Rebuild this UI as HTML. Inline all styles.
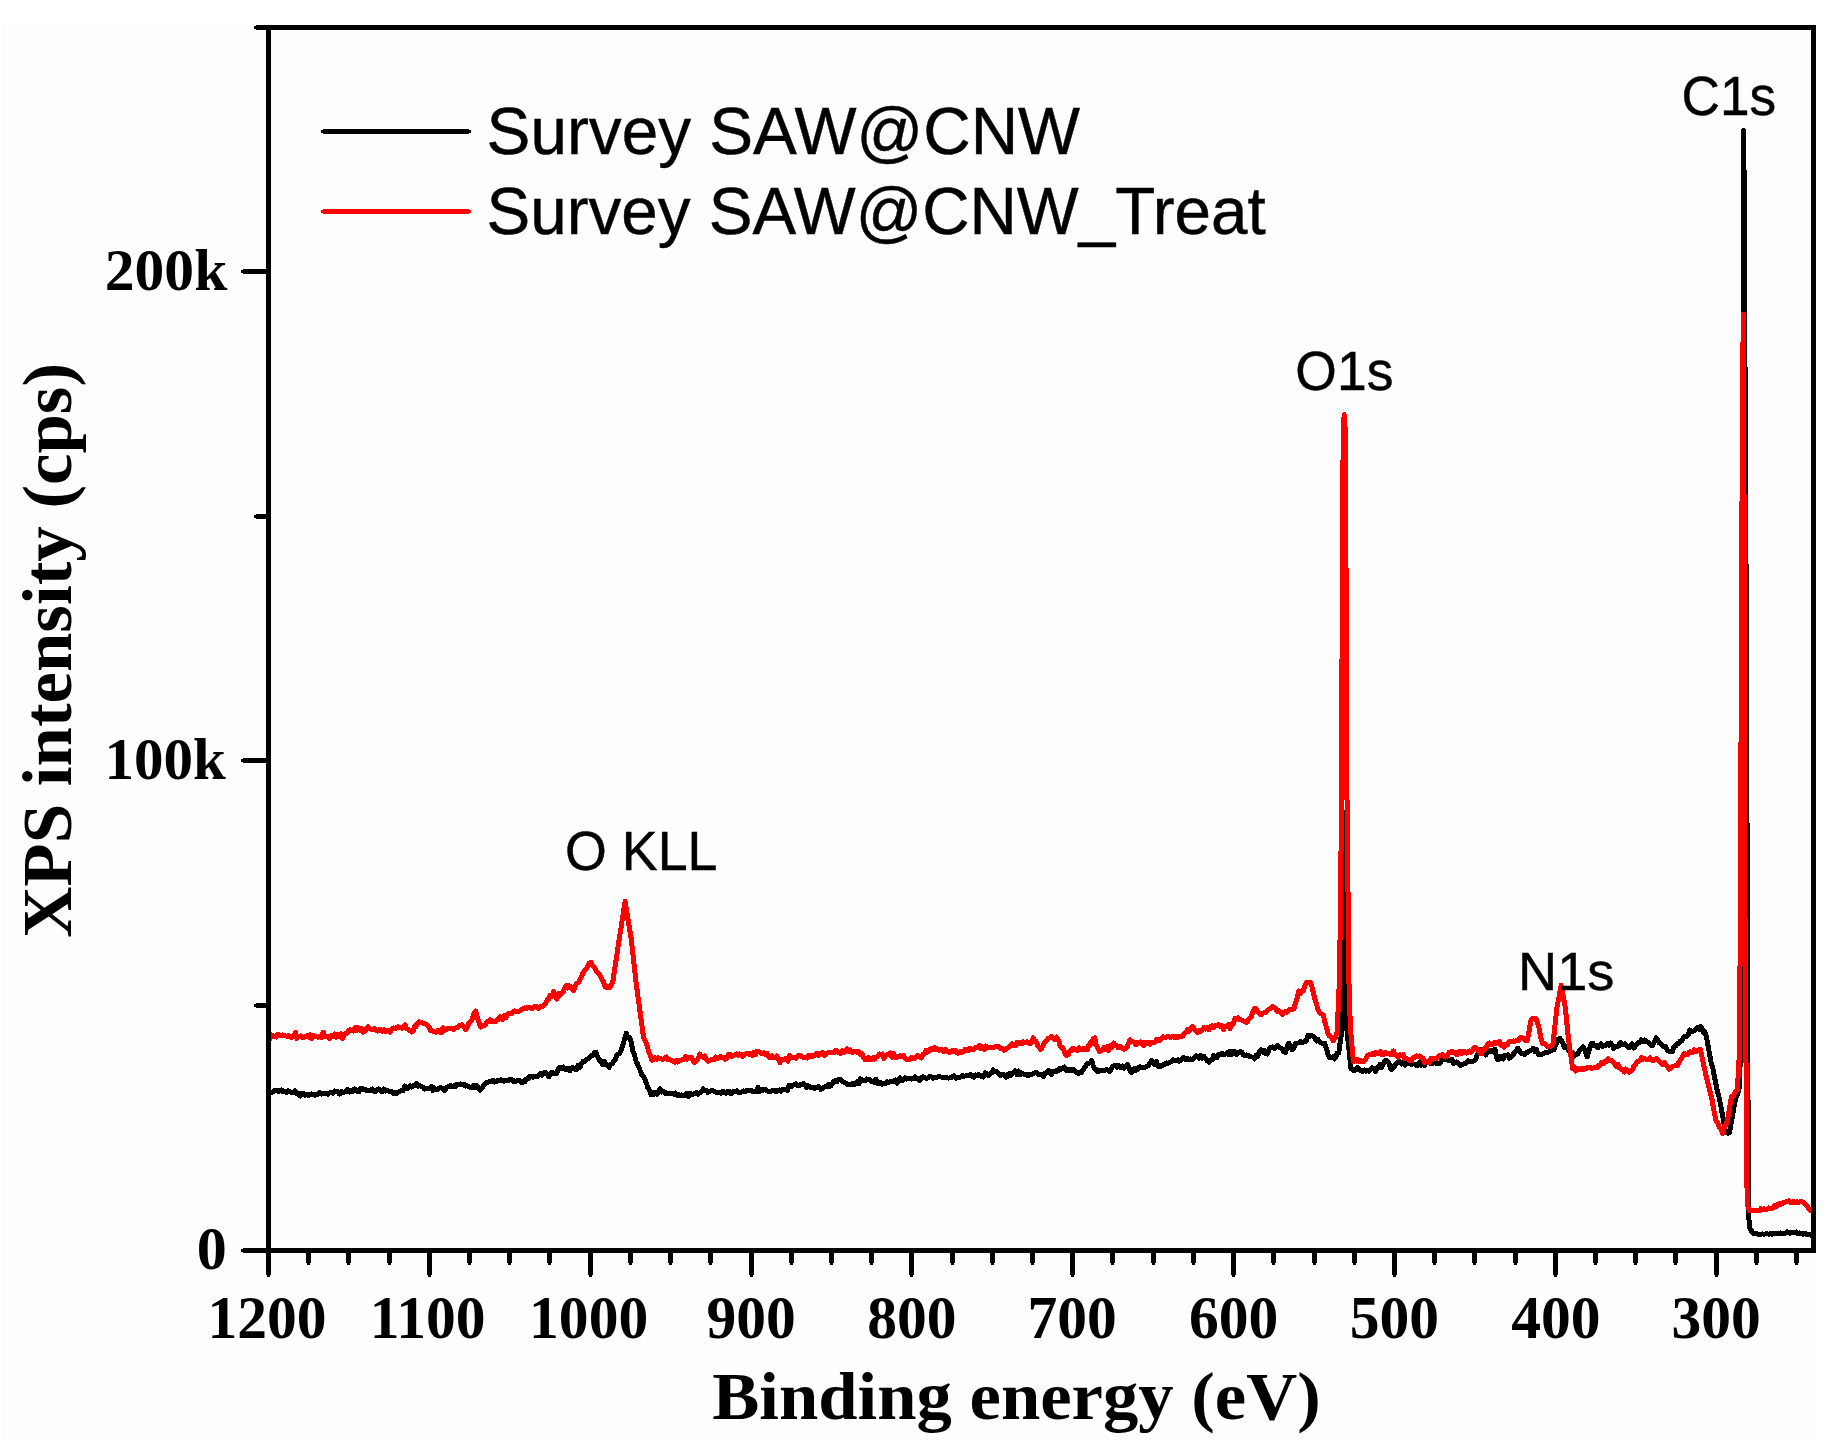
<!DOCTYPE html>
<html><head><meta charset="utf-8"><style>
html,body{margin:0;padding:0;background:#fff;}
svg{display:block;}
.tb{font-family:"Liberation Serif","Times New Roman",serif;font-weight:bold;}
.ss{font-family:"Liberation Sans",Arial,sans-serif;stroke:#000;stroke-width:0.45px;}
</style></head><body>
<svg width="1836" height="1448" viewBox="0 0 1836 1448">
<rect x="0" y="0" width="1836" height="1448" fill="#ffffff"/>
<rect x="1" y="22" width="1816" height="1418" fill="#fdfdfd"/>

<polyline points="268.5,1090.8 270.2,1092.4 271.8,1092.6 273.5,1091.2 275.1,1090.3 276.8,1090.0 278.4,1091.4 280.1,1090.3 281.7,1089.9 283.4,1091.9 285.0,1091.9 286.7,1092.4 288.3,1090.9 290.0,1092.0 291.7,1092.2 293.4,1092.3 295.0,1090.9 296.7,1093.4 298.4,1093.4 300.1,1096.0 301.7,1093.7 303.4,1093.5 305.1,1095.3 306.8,1094.3 308.4,1095.3 310.1,1094.5 311.7,1093.9 313.4,1094.5 315.0,1095.2 316.6,1094.7 318.3,1093.9 319.9,1092.4 321.5,1094.0 323.2,1093.4 324.8,1094.0 326.4,1093.3 328.1,1094.1 329.7,1092.7 331.3,1092.8 333.0,1093.2 334.6,1091.0 336.2,1091.7 337.9,1091.4 339.5,1094.1 341.1,1091.6 342.8,1092.3 344.4,1092.1 346.0,1090.9 347.7,1089.3 349.3,1092.0 350.9,1090.3 352.6,1091.5 354.2,1089.0 355.8,1089.8 357.5,1091.6 359.1,1091.7 360.7,1088.4 362.4,1088.2 364.0,1089.6 365.6,1089.7 367.3,1090.7 368.9,1090.1 370.6,1090.4 372.2,1089.0 373.8,1091.0 375.5,1091.7 377.1,1090.0 378.7,1089.0 380.4,1089.9 382.0,1091.7 383.7,1089.0 385.3,1091.0 386.9,1090.1 388.6,1091.2 390.2,1091.1 391.8,1091.6 393.5,1093.4 395.1,1092.3 396.8,1093.4 398.4,1092.0 400.0,1091.2 401.7,1090.1 403.3,1090.4 404.9,1086.0 406.6,1088.6 408.2,1088.1 409.8,1085.8 411.5,1087.1 413.1,1085.9 414.7,1085.5 416.4,1083.5 418.0,1086.4 419.6,1085.7 421.3,1086.5 422.9,1087.2 424.5,1089.1 426.2,1088.0 427.8,1088.1 429.4,1088.8 431.1,1086.5 432.7,1090.3 434.3,1087.9 436.0,1089.9 437.6,1089.6 439.2,1088.0 440.9,1087.8 442.5,1088.2 444.1,1090.5 445.8,1088.8 447.4,1086.9 449.0,1087.0 450.7,1085.6 452.3,1086.6 453.9,1085.7 455.6,1086.8 457.2,1084.1 458.8,1085.0 460.5,1084.0 462.1,1084.7 463.7,1084.2 465.4,1086.1 467.0,1085.7 468.6,1086.6 470.3,1087.6 471.9,1087.8 473.5,1085.2 475.2,1087.7 476.8,1085.4 478.4,1087.6 480.1,1090.2 481.7,1088.3 483.3,1086.0 485.0,1083.8 486.6,1082.2 488.2,1082.1 489.9,1081.7 491.5,1081.4 493.1,1080.2 494.8,1082.1 496.4,1081.7 498.0,1080.1 499.7,1080.4 501.3,1079.8 502.9,1080.7 504.5,1081.2 506.0,1080.5 507.6,1081.0 509.2,1079.9 510.8,1079.0 512.4,1079.8 513.9,1081.7 515.5,1081.7 517.1,1080.8 518.7,1080.1 520.2,1081.2 521.8,1082.9 523.4,1081.0 525.0,1081.9 526.5,1078.8 528.1,1078.9 529.6,1076.6 531.2,1076.3 532.7,1077.2 534.3,1076.3 535.8,1076.8 537.4,1076.5 538.9,1075.3 540.5,1073.6 542.1,1075.2 543.8,1072.9 545.4,1072.2 547.0,1074.2 548.7,1076.8 550.3,1074.0 551.9,1072.2 553.6,1073.9 555.2,1073.6 556.8,1073.3 558.5,1068.3 560.1,1067.5 561.7,1068.6 563.4,1067.0 565.0,1069.5 566.6,1069.0 568.3,1068.5 569.9,1070.8 571.5,1067.9 573.2,1067.7 574.8,1068.7 576.4,1069.8 578.1,1065.2 579.7,1067.8 581.3,1063.8 583.0,1061.3 584.6,1061.4 586.2,1060.0 587.9,1058.7 589.5,1057.4 591.1,1055.4 592.8,1055.6 594.4,1052.8 596.0,1052.3 597.7,1057.0 599.3,1060.1 600.9,1061.0 602.6,1064.8 604.2,1061.3 605.8,1064.6 607.5,1064.9 609.1,1067.5 610.6,1064.4 612.2,1063.7 613.7,1061.1 615.2,1060.1 616.8,1055.2 618.3,1054.0 619.9,1052.9 621.4,1049.1 623.0,1045.0 624.7,1038.1 626.3,1033.2 627.9,1037.5 629.6,1037.7 631.2,1041.8 632.8,1050.7 634.5,1055.1 636.1,1061.4 637.6,1064.2 639.1,1067.6 640.5,1071.3 642.0,1075.3 643.5,1076.1 645.0,1079.6 646.4,1083.0 647.9,1087.8 649.3,1089.8 650.8,1094.5 652.3,1092.2 653.8,1094.7 655.4,1092.9 656.9,1094.2 658.4,1091.3 660.0,1088.8 661.5,1092.0 663.0,1091.3 664.6,1091.9 666.1,1093.9 667.7,1093.1 669.3,1093.3 670.8,1094.0 672.4,1093.3 673.9,1094.2 675.5,1093.0 677.1,1095.5 678.6,1094.4 680.2,1095.7 681.8,1094.9 683.5,1095.8 685.1,1095.8 686.7,1093.2 688.4,1096.3 690.0,1093.1 691.6,1094.4 693.3,1094.2 694.9,1093.0 696.5,1092.6 698.2,1094.2 699.8,1092.8 701.4,1092.0 703.1,1089.0 704.7,1090.8 706.3,1090.1 707.9,1092.5 709.5,1091.5 711.2,1090.4 712.8,1090.9 714.4,1091.5 716.0,1092.0 717.7,1092.9 719.4,1092.6 721.1,1093.4 722.8,1091.4 724.5,1092.4 726.1,1093.4 727.7,1091.6 729.3,1091.7 730.9,1093.9 732.5,1091.8 734.1,1091.5 735.7,1091.2 737.3,1090.9 738.9,1093.0 740.5,1092.7 742.1,1091.8 743.7,1091.0 745.3,1091.9 746.9,1090.5 748.5,1091.0 750.1,1090.8 751.7,1090.3 753.3,1092.0 754.9,1091.9 756.5,1091.3 758.1,1087.5 759.7,1091.6 761.3,1089.4 762.9,1090.4 764.6,1089.2 766.2,1089.8 767.8,1091.3 769.5,1091.5 771.1,1091.2 772.7,1090.6 774.4,1090.6 776.0,1091.6 777.6,1090.7 779.3,1089.9 780.9,1091.1 782.5,1089.6 784.2,1089.3 785.8,1089.1 787.4,1090.5 789.1,1085.5 790.7,1086.8 792.3,1085.3 794.0,1085.0 795.6,1083.8 797.2,1085.7 798.8,1085.8 800.3,1084.5 801.9,1084.3 803.5,1083.6 805.1,1085.4 806.7,1087.3 808.3,1085.8 809.8,1087.2 811.4,1087.5 813.0,1087.4 814.6,1088.5 816.2,1087.4 817.8,1086.9 819.3,1086.8 820.9,1089.5 822.5,1088.7 824.1,1087.4 825.7,1086.5 827.3,1086.9 828.9,1084.1 830.5,1086.2 832.1,1084.0 833.7,1081.7 835.3,1080.7 836.9,1081.8 838.5,1079.6 840.1,1079.0 841.6,1080.4 843.2,1081.9 844.8,1082.9 846.4,1083.5 847.9,1084.7 849.5,1085.0 851.1,1084.0 852.6,1083.7 854.2,1084.8 855.8,1083.5 857.3,1081.7 858.9,1083.7 860.4,1078.8 862.0,1080.7 863.6,1080.8 865.1,1080.6 866.7,1078.9 868.2,1079.6 869.8,1079.7 871.3,1081.4 872.8,1081.1 874.3,1082.5 875.9,1079.2 877.4,1083.6 878.9,1083.8 880.5,1082.6 882.2,1084.3 883.8,1083.8 885.4,1083.5 887.1,1081.9 888.7,1082.6 890.3,1081.4 892.0,1081.8 893.6,1081.1 895.2,1080.0 896.9,1083.1 898.5,1081.3 900.1,1077.7 901.8,1080.9 903.4,1079.6 905.0,1077.8 906.7,1079.1 908.3,1078.5 909.9,1078.4 911.6,1079.2 913.2,1078.4 914.8,1076.9 916.5,1078.5 918.1,1078.8 919.7,1080.4 921.4,1077.6 923.0,1076.6 924.6,1077.4 926.3,1078.5 927.9,1077.6 929.5,1076.5 931.2,1076.7 932.8,1078.2 934.5,1077.5 936.1,1077.8 937.7,1076.7 939.4,1076.5 941.0,1077.0 942.6,1077.2 944.3,1077.0 945.9,1077.9 947.6,1078.0 949.2,1078.0 950.8,1077.9 952.5,1076.2 954.1,1075.9 955.8,1078.2 957.4,1077.2 959.0,1077.1 960.7,1077.1 962.3,1075.4 963.9,1076.4 965.6,1075.8 967.2,1075.4 968.8,1075.5 970.5,1074.3 972.1,1076.1 973.7,1077.3 975.4,1074.9 977.0,1075.7 978.6,1074.2 980.3,1076.1 981.9,1075.2 983.5,1077.0 985.2,1072.9 986.8,1073.7 988.4,1075.3 990.1,1073.6 991.7,1072.9 993.3,1069.8 995.0,1071.7 996.6,1071.5 998.2,1073.6 999.9,1075.1 1001.5,1075.1 1003.1,1074.6 1004.8,1075.4 1006.4,1077.2 1007.9,1074.0 1009.3,1073.9 1010.8,1075.6 1012.2,1073.1 1013.7,1072.3 1015.3,1070.9 1016.8,1074.3 1018.4,1070.9 1020.0,1074.7 1021.5,1073.0 1023.1,1074.0 1024.6,1074.6 1026.2,1074.4 1027.8,1075.8 1029.3,1074.5 1030.9,1074.7 1032.5,1074.1 1034.0,1073.4 1035.6,1072.3 1037.2,1072.9 1038.8,1074.7 1040.3,1074.3 1041.9,1074.8 1043.5,1076.2 1045.0,1073.5 1046.6,1073.0 1048.2,1070.6 1049.8,1071.7 1051.3,1074.4 1052.9,1071.5 1054.5,1071.9 1056.2,1070.8 1057.8,1071.1 1059.4,1068.1 1061.1,1069.1 1062.7,1068.3 1064.3,1067.0 1066.0,1070.3 1067.6,1069.1 1069.1,1070.7 1070.7,1069.7 1072.2,1070.7 1073.8,1069.5 1075.3,1071.7 1076.8,1072.4 1078.4,1073.8 1079.9,1072.3 1081.6,1072.5 1083.3,1069.5 1085.0,1067.1 1086.6,1064.5 1088.3,1063.1 1090.0,1063.0 1091.7,1060.5 1093.2,1065.5 1094.6,1069.1 1096.2,1069.4 1097.9,1071.7 1099.5,1070.7 1101.1,1070.2 1102.8,1070.2 1104.4,1070.8 1106.0,1069.8 1107.7,1070.0 1109.3,1071.5 1110.9,1069.9 1112.6,1066.7 1114.2,1065.4 1115.8,1065.2 1117.5,1067.2 1119.1,1065.6 1120.7,1067.6 1122.4,1066.1 1124.0,1068.1 1125.6,1066.9 1127.3,1064.3 1128.9,1066.6 1130.2,1071.0 1131.4,1072.3 1133.0,1071.3 1134.5,1068.4 1136.1,1070.2 1137.6,1069.5 1139.2,1066.9 1140.7,1067.0 1142.2,1067.7 1143.8,1068.0 1145.3,1066.9 1146.9,1066.2 1148.5,1065.3 1150.0,1063.2 1151.6,1060.5 1153.3,1063.2 1154.9,1064.7 1156.5,1061.6 1158.1,1066.3 1159.8,1066.9 1161.4,1066.2 1163.0,1064.5 1164.7,1064.3 1166.3,1062.9 1168.0,1063.3 1169.6,1062.6 1171.2,1061.9 1172.9,1059.9 1174.5,1060.5 1176.1,1060.8 1177.8,1059.8 1179.4,1061.2 1181.0,1060.3 1182.7,1057.8 1184.3,1057.7 1185.9,1059.5 1187.5,1058.6 1189.2,1059.7 1190.8,1058.9 1192.4,1059.6 1194.1,1058.3 1195.7,1055.8 1197.3,1056.1 1199.0,1058.1 1200.6,1055.7 1202.3,1058.1 1203.9,1056.4 1205.5,1058.2 1207.2,1060.9 1208.8,1062.1 1210.4,1060.0 1212.1,1059.9 1213.7,1055.2 1215.4,1057.7 1217.0,1057.6 1218.7,1054.7 1220.3,1054.8 1221.9,1053.5 1223.6,1054.3 1225.2,1054.2 1226.8,1052.9 1228.4,1054.5 1230.1,1051.3 1231.7,1054.6 1233.3,1051.2 1234.9,1051.7 1236.6,1054.2 1238.2,1052.3 1239.8,1051.9 1241.5,1051.8 1243.2,1054.9 1244.8,1055.6 1246.4,1055.0 1248.1,1055.3 1249.7,1056.4 1251.3,1056.9 1253.0,1057.1 1254.6,1058.9 1256.2,1055.3 1257.8,1056.5 1259.5,1051.3 1261.1,1049.9 1262.7,1052.2 1264.3,1050.2 1266.0,1053.7 1267.6,1054.0 1269.2,1049.1 1270.9,1047.4 1272.5,1046.9 1274.2,1048.5 1275.8,1047.1 1277.4,1045.4 1279.1,1047.4 1280.7,1048.2 1282.3,1049.4 1284.0,1051.7 1285.6,1052.3 1287.2,1046.5 1288.9,1043.3 1290.6,1046.2 1292.2,1049.9 1293.8,1047.8 1295.5,1043.4 1297.1,1043.3 1298.7,1042.8 1300.3,1041.6 1302.0,1042.9 1303.6,1041.9 1305.2,1041.7 1306.7,1039.9 1308.1,1035.3 1309.5,1036.7 1311.0,1035.2 1312.4,1036.1 1313.8,1036.8 1315.3,1038.8 1316.7,1040.9 1318.3,1039.7 1319.9,1042.1 1321.6,1043.2 1323.2,1043.6 1324.8,1043.3 1326.4,1048.4 1328.1,1054.8 1329.7,1058.0 1331.3,1057.9 1333.0,1056.7 1334.6,1058.9 1336.0,1056.8 1337.3,1053.0 1338.7,1053.1 1340.3,1041.5 1342.0,1030.3 1344.6,812.0 1346.9,1030.3 1351.0,1068.7 1352.6,1069.8 1354.3,1070.8 1355.9,1069.0 1357.5,1067.6 1359.2,1069.8 1360.8,1070.3 1362.4,1071.7 1364.1,1070.0 1365.7,1071.2 1367.3,1070.4 1369.0,1071.1 1370.6,1069.7 1372.3,1067.9 1373.9,1069.0 1375.5,1071.4 1377.2,1067.4 1378.8,1067.8 1380.3,1064.1 1381.7,1067.5 1383.2,1063.9 1384.6,1061.2 1386.1,1060.5 1387.5,1062.0 1388.9,1063.1 1390.4,1068.1 1391.8,1069.5 1393.5,1067.8 1395.1,1065.0 1396.8,1063.4 1398.4,1062.1 1400.0,1061.9 1401.7,1064.1 1403.3,1062.8 1404.9,1065.1 1406.5,1062.6 1408.2,1063.2 1409.8,1063.7 1411.4,1064.6 1413.0,1063.8 1414.7,1064.1 1416.3,1065.4 1418.0,1065.4 1419.6,1062.4 1421.2,1065.2 1422.9,1063.5 1424.5,1065.2 1426.2,1062.9 1427.8,1062.9 1429.3,1061.9 1430.8,1064.0 1432.4,1063.8 1433.9,1062.5 1435.4,1063.1 1437.0,1063.3 1438.5,1063.5 1440.0,1063.2 1441.7,1059.7 1443.5,1059.0 1445.2,1059.1 1446.9,1059.8 1448.5,1060.6 1450.2,1060.2 1451.9,1059.2 1453.6,1063.7 1455.2,1062.2 1456.9,1061.9 1458.6,1063.8 1460.2,1065.5 1461.7,1064.6 1463.3,1064.1 1464.8,1063.6 1466.4,1062.9 1468.0,1060.7 1469.5,1061.6 1471.1,1061.7 1472.6,1061.7 1474.2,1060.6 1476.0,1058.5 1477.8,1053.9 1479.6,1051.7 1481.4,1049.8 1482.8,1051.1 1484.2,1053.0 1485.6,1055.0 1487.1,1052.9 1488.7,1050.8 1490.2,1050.6 1491.8,1051.6 1493.4,1050.2 1494.9,1049.3 1497.0,1059.1 1498.5,1059.5 1500.1,1056.1 1501.7,1057.6 1503.2,1059.0 1504.8,1055.1 1506.3,1055.9 1507.8,1054.8 1509.4,1058.2 1511.0,1056.3 1512.5,1056.0 1514.2,1052.7 1516.0,1051.0 1517.7,1048.2 1519.4,1050.0 1521.1,1053.2 1522.8,1053.9 1524.5,1054.4 1526.3,1053.2 1528.0,1051.5 1529.7,1051.1 1531.5,1050.2 1533.2,1048.2 1534.8,1051.4 1536.3,1049.2 1537.9,1053.7 1539.4,1055.0 1541.0,1054.5 1542.6,1054.0 1544.2,1052.9 1545.8,1052.6 1547.5,1052.7 1549.1,1051.8 1550.7,1051.1 1552.3,1049.0 1553.9,1049.8 1555.5,1045.3 1557.0,1043.1 1558.5,1038.9 1560.1,1038.4 1561.5,1040.8 1562.9,1043.5 1564.3,1047.7 1565.8,1046.7 1567.4,1047.8 1569.0,1051.0 1570.5,1052.9 1572.3,1052.4 1574.1,1056.2 1575.9,1054.8 1577.7,1053.9 1579.4,1050.5 1581.2,1048.5 1582.9,1046.7 1584.3,1048.8 1585.7,1052.6 1587.1,1057.0 1588.5,1052.1 1589.8,1048.0 1591.2,1043.6 1592.9,1043.2 1594.5,1045.5 1596.2,1045.6 1597.8,1047.7 1599.5,1045.6 1601.1,1043.9 1602.7,1046.5 1604.2,1045.2 1605.8,1045.7 1607.4,1043.5 1609.0,1045.0 1610.6,1043.1 1612.2,1045.0 1613.8,1048.5 1615.4,1046.4 1617.1,1047.0 1618.7,1046.0 1620.3,1042.3 1621.9,1044.7 1623.5,1044.1 1625.1,1043.8 1627.0,1046.3 1629.0,1047.7 1630.5,1045.6 1632.1,1043.6 1633.7,1048.1 1635.2,1046.1 1636.8,1044.2 1638.3,1042.4 1639.8,1042.5 1641.4,1039.8 1643.0,1041.9 1644.5,1039.9 1646.0,1041.3 1647.6,1042.0 1649.1,1042.8 1650.7,1044.5 1652.2,1045.7 1654.2,1042.0 1656.1,1038.0 1657.6,1039.2 1659.2,1042.7 1660.7,1043.5 1662.3,1044.8 1663.8,1046.7 1665.5,1046.5 1667.3,1050.2 1669.0,1051.3 1670.8,1051.4 1672.5,1051.5 1674.1,1046.6 1675.7,1045.9 1677.3,1043.8 1678.9,1043.6 1680.4,1040.8 1682.0,1040.8 1683.5,1037.1 1685.1,1036.1 1686.7,1036.2 1688.3,1034.8 1689.9,1030.0 1691.5,1031.7 1693.1,1031.0 1694.7,1030.3 1696.2,1028.5 1697.6,1027.2 1699.0,1029.4 1700.5,1026.4 1702.0,1028.7 1703.4,1032.3 1704.8,1031.9 1706.3,1036.1 1711.2,1063.1 1712.8,1067.7 1714.4,1076.7 1716.0,1084.4 1717.6,1092.0 1719.2,1097.8 1720.8,1105.7 1725.7,1132.7 1727.6,1133.2 1729.5,1132.7 1735.3,1099.9 1737.2,1095.0 1739.2,1088.3 1741.1,1038.0 1743.8,130.5 1746.2,600.0 1748.0,1100.0 1748.3,1210.0 1749.6,1228.0 1751.2,1230.4 1752.7,1233.2 1754.4,1233.3 1756.0,1233.2 1757.7,1234.0 1759.3,1234.4 1761.0,1234.1 1762.6,1233.9 1764.3,1234.2 1765.9,1233.8 1767.5,1233.9 1769.1,1234.2 1770.7,1233.5 1772.4,1234.2 1774.0,1233.1 1775.6,1233.5 1777.2,1233.9 1778.8,1233.9 1780.4,1233.0 1782.0,1233.3 1783.6,1233.9 1785.2,1233.3 1786.9,1231.9 1788.5,1232.7 1790.1,1233.4 1791.7,1232.0 1793.3,1232.3 1794.9,1232.9 1796.5,1232.0 1798.0,1233.7 1799.6,1233.0 1801.2,1233.9 1802.8,1234.2 1804.4,1233.1 1806.0,1233.9 1807.5,1234.8 1809.1,1234.4 1810.7,1235.2" fill="none" stroke="#000" stroke-width="5" stroke-linejoin="round" stroke-linecap="round" shape-rendering="crispEdges"/>
<polyline points="268.5,1035.6 270.1,1038.7 271.6,1034.9 273.2,1036.4 274.8,1036.2 276.4,1037.1 277.9,1034.3 279.5,1035.7 281.1,1035.4 282.6,1035.0 284.2,1035.4 285.8,1036.0 287.4,1036.3 288.9,1035.6 290.5,1036.9 292.1,1037.4 293.8,1036.2 295.4,1032.7 297.0,1038.4 298.7,1036.4 300.3,1035.9 301.9,1037.2 303.6,1037.2 305.2,1037.0 306.8,1035.8 308.5,1037.1 310.1,1034.9 311.7,1038.8 313.4,1035.3 315.0,1036.6 316.6,1036.9 318.3,1037.2 319.9,1036.6 321.5,1037.5 323.2,1032.2 324.8,1036.6 326.4,1036.5 328.1,1036.2 329.7,1038.7 331.3,1035.5 333.0,1036.6 334.6,1034.1 336.2,1037.1 337.9,1034.6 339.5,1036.9 341.0,1033.9 342.6,1038.3 344.1,1035.3 345.6,1033.6 347.2,1033.1 348.7,1030.2 350.3,1029.9 351.8,1030.7 353.4,1031.0 355.1,1027.5 356.7,1030.6 358.3,1027.8 360.0,1030.2 361.6,1028.5 363.2,1032.1 364.9,1031.1 366.5,1028.9 368.1,1027.0 369.8,1028.4 371.4,1029.5 373.0,1029.4 374.5,1028.2 376.1,1030.0 377.6,1031.1 379.2,1029.8 380.7,1029.4 382.3,1031.1 383.8,1029.8 385.4,1031.4 386.9,1030.0 388.5,1030.7 390.1,1032.3 391.8,1029.3 393.4,1027.9 395.1,1029.0 396.7,1027.6 398.4,1026.8 400.0,1027.5 401.7,1028.2 403.3,1027.0 405.0,1025.0 406.7,1028.8 408.4,1029.6 410.1,1030.6 411.8,1032.0 413.3,1030.8 414.8,1026.0 416.2,1026.5 417.7,1023.3 419.2,1021.7 420.9,1022.5 422.6,1022.9 424.4,1023.6 426.1,1024.1 427.8,1025.8 429.3,1027.4 430.7,1030.9 432.2,1030.8 433.6,1031.7 435.1,1032.0 436.6,1032.1 438.2,1030.3 439.7,1031.3 441.2,1032.7 442.8,1027.9 444.3,1030.2 445.9,1030.0 447.4,1028.3 449.0,1028.1 450.7,1028.4 452.3,1028.8 453.9,1029.5 455.6,1027.9 457.2,1027.9 458.8,1025.8 460.5,1026.0 462.1,1024.6 464.0,1027.2 465.8,1029.5 467.4,1026.7 469.1,1022.7 470.7,1021.1 472.3,1019.1 474.0,1013.9 475.6,1011.1 477.2,1016.7 478.9,1022.4 480.5,1027.0 482.2,1025.9 483.9,1026.0 485.6,1024.1 487.3,1021.2 489.0,1021.7 490.5,1019.9 492.1,1021.8 493.6,1021.3 495.1,1021.5 496.7,1020.0 498.2,1019.5 499.8,1016.8 501.3,1018.5 502.9,1019.5 504.6,1015.6 506.2,1017.4 507.8,1013.7 509.5,1013.5 511.1,1013.7 512.7,1012.1 514.4,1011.0 516.0,1011.1 517.6,1011.8 519.3,1011.1 520.9,1010.4 522.5,1009.0 524.2,1008.0 525.8,1008.7 527.4,1007.8 528.9,1007.5 530.5,1008.0 532.1,1008.8 533.6,1007.3 535.2,1006.3 536.7,1006.3 538.3,1008.5 539.9,1006.8 541.4,1006.7 543.0,1006.2 544.5,1004.3 545.9,1002.6 547.4,999.8 548.8,998.9 550.3,995.2 551.9,996.2 553.6,991.5 555.2,995.0 556.8,999.0 558.5,993.5 560.1,995.2 561.6,992.9 563.2,991.7 564.7,987.8 566.2,985.4 567.7,988.1 569.2,985.7 570.6,986.7 572.1,989.1 573.6,990.3 575.2,986.5 576.7,983.3 578.3,982.6 579.9,979.4 581.5,976.3 583.0,973.0 584.6,970.7 586.1,968.9 587.7,966.2 589.2,963.3 590.8,962.1 592.3,965.0 593.7,967.0 595.2,968.8 596.6,971.8 598.1,973.1 599.8,974.6 601.5,978.8 603.3,981.2 605.0,986.6 606.7,987.8 608.2,986.9 609.8,987.5 611.3,985.3 612.8,981.7 618.9,941.3 625.1,901.5 631.2,938.8 636.1,982.9 643.5,1036.9 645.2,1041.1 646.9,1044.8 648.6,1051.4 650.3,1055.1 652.0,1060.1 653.5,1059.3 655.1,1057.6 656.7,1059.1 658.2,1057.7 659.8,1058.3 661.5,1059.0 663.1,1059.3 664.7,1058.2 666.4,1056.9 668.0,1059.8 669.6,1059.8 671.3,1060.3 672.9,1061.4 674.5,1062.2 676.0,1060.5 677.6,1062.1 679.1,1060.0 680.7,1060.3 682.2,1059.6 683.8,1059.6 685.3,1056.6 686.9,1059.2 688.4,1057.5 690.0,1057.0 691.6,1057.6 693.3,1061.5 694.9,1062.6 696.5,1060.2 698.2,1058.5 699.8,1054.0 701.4,1056.3 703.0,1057.1 704.5,1055.9 706.1,1059.3 707.7,1061.2 709.3,1060.8 710.9,1059.7 712.5,1059.2 714.0,1059.9 715.6,1057.1 717.2,1058.9 718.8,1057.9 720.4,1056.4 722.0,1057.9 723.6,1057.7 725.2,1059.3 726.8,1058.1 728.3,1054.7 729.9,1054.1 731.5,1056.3 733.1,1055.9 734.7,1054.8 736.3,1054.0 737.9,1055.4 739.5,1054.0 741.1,1054.4 742.6,1056.2 744.2,1055.2 745.8,1053.8 747.4,1053.2 749.0,1054.4 750.6,1053.7 752.3,1055.8 753.9,1052.5 755.5,1054.9 757.2,1051.3 758.8,1051.9 760.4,1052.2 762.1,1054.0 763.7,1052.8 765.3,1054.4 767.0,1053.3 768.6,1056.4 770.2,1057.7 771.9,1056.0 773.5,1057.7 775.1,1057.6 776.8,1056.0 778.4,1059.3 780.0,1062.6 781.6,1059.7 783.2,1059.8 784.8,1059.0 786.4,1058.6 788.0,1061.2 789.6,1055.7 791.2,1057.4 792.8,1057.1 794.3,1057.2 795.9,1058.1 797.5,1056.2 799.1,1055.2 800.7,1055.3 802.3,1057.1 803.9,1057.5 805.5,1057.2 807.1,1058.0 808.7,1055.1 810.3,1055.6 811.9,1056.6 813.4,1056.0 815.0,1054.7 816.6,1053.7 818.1,1055.6 819.7,1053.4 821.2,1053.6 822.8,1052.5 824.4,1055.8 825.9,1053.3 827.5,1053.1 829.2,1052.3 830.8,1052.6 832.5,1052.5 834.1,1052.8 835.8,1050.4 837.4,1050.9 839.1,1053.0 840.7,1053.6 842.4,1050.8 844.0,1052.1 845.7,1051.1 847.3,1048.8 849.0,1051.2 850.6,1050.1 852.3,1052.5 853.9,1051.0 855.6,1051.2 857.2,1052.3 858.8,1051.6 860.4,1054.9 861.9,1053.4 863.5,1057.3 865.1,1059.9 866.7,1059.3 868.3,1057.4 869.8,1059.7 871.4,1060.0 873.0,1057.6 874.6,1059.0 876.1,1057.3 877.7,1056.2 879.3,1054.0 880.8,1054.8 882.4,1053.9 884.0,1058.5 885.6,1055.4 887.1,1054.5 888.7,1054.4 890.3,1053.0 892.0,1057.2 893.6,1053.8 895.2,1057.5 896.9,1057.2 898.5,1056.3 900.1,1055.6 901.8,1056.7 903.4,1055.4 905.0,1058.2 906.7,1059.8 908.3,1059.0 909.9,1059.5 911.6,1057.6 913.2,1058.8 914.8,1058.4 916.5,1056.0 918.1,1055.9 919.7,1056.6 921.4,1058.1 923.0,1054.2 924.6,1053.4 926.3,1050.2 927.9,1052.0 929.5,1049.9 931.2,1048.5 932.8,1049.5 934.3,1047.6 935.9,1049.7 937.4,1049.0 939.0,1050.4 940.5,1049.2 942.0,1049.5 943.6,1051.4 945.1,1049.5 946.6,1051.0 948.2,1051.4 949.7,1052.7 951.2,1051.6 952.8,1050.5 954.3,1051.2 955.9,1050.6 957.4,1053.1 958.9,1053.0 960.5,1051.5 962.0,1052.1 963.5,1052.0 965.0,1049.3 966.5,1050.0 968.1,1050.9 969.6,1048.7 971.2,1048.7 972.9,1049.7 974.5,1048.1 976.1,1047.0 977.8,1047.8 979.4,1045.6 981.0,1048.8 982.7,1047.1 984.3,1049.4 985.9,1046.0 987.6,1047.6 989.2,1047.8 990.8,1047.0 992.5,1047.6 994.1,1047.0 995.7,1046.5 997.4,1046.7 999.0,1046.8 1000.6,1048.4 1002.3,1048.6 1003.9,1050.2 1005.5,1049.7 1007.2,1048.2 1008.8,1047.0 1010.4,1046.2 1012.1,1043.9 1013.7,1045.1 1015.3,1045.4 1017.0,1042.3 1018.6,1043.3 1020.2,1042.8 1021.9,1043.8 1023.5,1041.8 1025.1,1042.7 1026.8,1041.7 1028.4,1042.1 1030.0,1043.9 1031.7,1041.1 1033.3,1037.9 1034.8,1041.8 1036.3,1041.6 1037.7,1045.7 1039.2,1047.0 1040.7,1049.5 1042.5,1047.0 1044.4,1042.8 1046.2,1040.6 1048.5,1038.0 1050.1,1038.0 1051.7,1036.6 1053.3,1037.8 1054.9,1039.5 1056.5,1037.0 1058.5,1040.0 1060.5,1047.0 1062.1,1047.3 1063.7,1049.5 1065.2,1054.0 1066.8,1055.5 1068.2,1054.7 1069.7,1051.4 1071.1,1050.8 1072.5,1048.2 1074.1,1048.9 1075.8,1049.2 1077.4,1050.4 1079.1,1047.9 1080.7,1049.8 1082.4,1049.3 1084.0,1048.3 1085.7,1050.0 1087.3,1049.5 1088.8,1045.5 1090.2,1042.9 1091.7,1044.0 1093.1,1038.8 1094.6,1037.9 1096.2,1044.8 1097.9,1048.6 1099.5,1051.9 1101.1,1050.6 1102.6,1049.5 1104.2,1047.2 1105.8,1049.4 1107.3,1046.7 1108.9,1050.4 1110.4,1045.5 1112.0,1047.2 1113.6,1042.9 1115.1,1045.4 1116.7,1045.3 1118.2,1047.9 1119.6,1046.4 1121.1,1046.7 1122.5,1048.0 1124.0,1049.5 1125.5,1048.3 1127.0,1047.2 1128.4,1044.0 1129.9,1039.9 1131.4,1040.9 1133.0,1041.6 1134.5,1042.8 1136.1,1044.8 1137.6,1042.3 1139.2,1042.6 1140.7,1041.9 1142.2,1043.9 1143.8,1045.6 1145.3,1042.2 1146.9,1043.9 1148.5,1042.7 1150.0,1044.4 1151.6,1042.5 1153.3,1042.2 1154.9,1042.2 1156.5,1039.5 1158.2,1039.2 1159.8,1040.5 1161.5,1038.4 1163.1,1036.8 1164.7,1037.7 1166.4,1037.2 1168.0,1036.3 1169.6,1037.1 1171.3,1037.2 1172.9,1036.4 1174.5,1037.7 1176.2,1036.3 1177.8,1037.4 1179.4,1036.2 1181.1,1037.0 1182.7,1036.0 1184.3,1033.5 1186.0,1032.0 1187.6,1029.6 1189.2,1031.1 1190.9,1028.5 1192.5,1026.2 1194.1,1028.6 1195.8,1031.3 1197.4,1032.7 1199.0,1030.9 1200.7,1031.5 1202.3,1030.0 1203.9,1027.6 1205.6,1029.0 1207.2,1027.6 1208.9,1029.9 1210.5,1026.4 1212.1,1025.9 1213.8,1027.4 1215.4,1025.4 1217.0,1025.7 1218.7,1024.3 1220.3,1026.8 1221.9,1025.8 1223.6,1029.4 1225.2,1026.1 1226.8,1026.9 1228.5,1024.6 1230.1,1028.6 1231.7,1024.2 1233.4,1024.0 1235.0,1018.0 1236.6,1018.4 1238.3,1017.8 1239.9,1020.0 1241.5,1019.8 1243.2,1020.7 1244.8,1021.3 1246.4,1022.8 1248.1,1020.5 1249.7,1018.1 1251.3,1016.5 1252.9,1011.3 1254.6,1008.1 1256.2,1009.0 1257.8,1011.9 1259.5,1013.3 1261.1,1014.7 1262.7,1013.6 1264.4,1012.2 1266.0,1012.2 1267.6,1010.8 1269.2,1009.3 1270.9,1008.4 1272.5,1006.6 1274.1,1007.5 1275.8,1008.4 1277.4,1011.9 1279.1,1010.8 1280.7,1012.3 1282.3,1014.5 1284.0,1012.3 1285.6,1011.1 1287.2,1012.1 1288.9,1009.6 1290.5,1009.6 1292.2,1009.0 1293.8,1009.0 1295.4,1003.0 1297.1,997.9 1298.7,991.0 1300.3,993.5 1302.0,991.2 1303.6,990.2 1305.2,984.7 1306.9,982.1 1308.5,982.3 1310.2,982.4 1311.8,986.1 1313.4,993.2 1315.0,999.6 1316.7,1005.0 1318.3,1010.7 1319.9,1012.5 1321.6,1014.1 1323.2,1014.7 1324.8,1021.5 1326.5,1028.1 1328.1,1033.5 1329.7,1036.3 1331.4,1037.1 1333.0,1040.9 1334.4,1039.1 1335.7,1036.7 1337.1,1031.9 1339.6,976.3 1341.6,800.0 1342.2,600.0 1343.2,430.0 1344.2,414.5 1345.2,430.0 1346.2,600.0 1347.0,800.0 1349.2,1000.0 1351.0,1035.0 1353.4,1061.3 1354.9,1059.2 1356.4,1061.0 1357.9,1059.8 1359.4,1061.9 1360.9,1060.9 1362.4,1061.3 1364.0,1061.2 1365.7,1058.9 1367.3,1055.6 1368.9,1054.6 1370.6,1054.3 1372.2,1053.8 1373.9,1054.9 1375.5,1052.6 1377.2,1054.0 1378.8,1053.1 1380.4,1051.4 1382.0,1054.8 1383.7,1054.3 1385.3,1052.3 1386.9,1054.0 1388.5,1053.1 1390.2,1054.5 1391.8,1054.8 1393.5,1050.9 1395.1,1054.8 1396.7,1055.3 1398.3,1057.2 1400.0,1054.8 1401.6,1055.6 1403.2,1054.7 1404.9,1058.8 1406.5,1058.4 1408.1,1059.1 1409.8,1060.5 1411.4,1060.5 1413.1,1057.9 1414.7,1057.6 1416.3,1056.0 1418.0,1056.4 1419.6,1055.9 1421.3,1057.9 1422.9,1057.9 1424.5,1062.3 1426.2,1061.8 1427.8,1062.1 1429.4,1062.4 1431.0,1058.4 1432.7,1059.5 1434.3,1058.8 1435.9,1058.5 1437.5,1058.1 1439.2,1055.7 1440.8,1056.0 1442.4,1054.2 1444.0,1056.0 1445.6,1057.1 1447.2,1056.3 1448.8,1052.6 1450.4,1052.4 1452.0,1051.4 1453.6,1052.6 1455.2,1053.0 1456.8,1054.7 1458.4,1052.1 1460.0,1051.4 1461.5,1053.8 1463.1,1051.4 1464.7,1051.3 1466.3,1053.1 1467.9,1052.1 1469.5,1051.0 1471.1,1052.4 1472.5,1050.3 1473.8,1048.4 1475.2,1047.2 1476.8,1048.6 1478.3,1049.6 1479.9,1053.0 1481.4,1053.9 1483.0,1051.1 1484.5,1048.4 1486.0,1048.3 1487.6,1044.6 1489.3,1043.0 1491.1,1044.9 1492.8,1044.3 1494.5,1042.8 1496.3,1043.1 1498.0,1042.5 1499.5,1041.7 1501.1,1045.2 1502.7,1044.6 1504.2,1047.2 1505.8,1044.6 1507.3,1044.7 1508.9,1041.9 1510.4,1041.5 1512.0,1041.2 1513.7,1041.0 1515.3,1041.3 1516.9,1040.0 1518.5,1040.3 1520.2,1037.4 1521.8,1037.9 1523.5,1038.3 1525.3,1040.5 1527.0,1040.5 1528.4,1035.1 1529.7,1027.2 1531.1,1019.7 1532.7,1018.2 1534.2,1018.2 1535.8,1018.6 1537.3,1021.8 1539.0,1027.8 1540.8,1037.8 1542.5,1043.6 1544.2,1043.3 1546.0,1045.4 1547.7,1046.7 1549.4,1046.8 1551.2,1045.9 1552.9,1044.6 1557.0,1007.3 1561.2,985.5 1565.3,1007.3 1568.4,1038.4 1572.6,1068.4 1574.1,1067.6 1575.7,1071.0 1577.2,1068.8 1578.8,1069.0 1580.3,1069.7 1581.9,1068.4 1583.5,1069.7 1585.0,1068.9 1586.5,1068.5 1588.1,1067.4 1589.7,1067.1 1591.2,1068.6 1592.8,1068.1 1594.3,1067.6 1595.9,1067.0 1597.4,1067.4 1598.8,1065.5 1600.2,1065.3 1601.6,1062.7 1603.2,1063.7 1604.9,1061.5 1606.5,1061.8 1608.2,1058.7 1609.8,1060.6 1611.4,1060.4 1613.0,1062.2 1614.5,1063.2 1616.1,1066.4 1617.7,1064.2 1619.3,1068.0 1621.0,1069.0 1622.6,1069.7 1624.3,1072.0 1625.9,1069.0 1627.6,1070.6 1629.2,1072.3 1630.9,1070.9 1632.4,1070.1 1634.0,1065.8 1635.5,1064.6 1637.0,1061.7 1638.5,1061.3 1640.1,1060.1 1641.6,1057.3 1643.2,1059.3 1644.9,1058.6 1646.5,1059.3 1648.2,1059.8 1649.8,1057.7 1651.4,1059.9 1653.1,1060.6 1654.7,1059.4 1656.4,1058.7 1658.0,1060.2 1659.6,1061.5 1661.2,1062.7 1662.8,1064.5 1664.5,1062.5 1666.1,1065.4 1667.7,1067.0 1669.3,1069.3 1670.9,1068.3 1672.5,1066.3 1674.1,1066.0 1675.7,1065.8 1677.3,1066.0 1678.8,1062.1 1680.2,1060.1 1681.6,1058.0 1683.1,1055.4 1684.7,1053.4 1686.3,1054.3 1687.9,1054.3 1689.6,1051.8 1691.2,1052.4 1692.8,1052.5 1694.3,1049.9 1695.9,1051.4 1697.4,1051.0 1699.0,1049.5 1700.5,1049.6 1702.1,1057.4 1703.8,1065.8 1705.4,1072.8 1712.1,1099.9 1714.0,1111.2 1716.0,1121.1 1717.7,1122.9 1719.4,1127.1 1721.1,1129.1 1722.8,1133.7 1724.4,1127.0 1726.0,1125.1 1727.6,1119.2 1729.5,1108.4 1731.5,1096.0 1733.0,1096.0 1734.4,1094.0 1735.8,1091.1 1737.3,1090.2 1739.2,1057.3 1740.6,900.0 1741.4,600.0 1743.2,314.0 1744.5,600.0 1744.9,900.0 1746.6,1150.0 1747.2,1205.0 1749.5,1210.5 1754.7,1211.0 1756.2,1210.8 1757.8,1210.1 1759.3,1210.9 1760.9,1208.5 1762.4,1209.8 1763.9,1208.9 1765.5,1209.4 1767.0,1209.4 1768.6,1208.0 1770.1,1208.1 1771.7,1208.3 1773.3,1207.5 1774.8,1205.3 1776.4,1206.7 1778.0,1204.3 1779.6,1203.5 1781.2,1204.4 1782.8,1202.7 1784.3,1202.7 1785.9,1201.9 1787.5,1201.3 1789.0,1200.7 1790.6,1202.5 1792.2,1202.5 1793.7,1201.7 1795.2,1202.8 1796.8,1201.9 1798.3,1202.2 1799.9,1201.9 1801.5,1201.4 1803.0,1202.3 1804.7,1203.8 1806.4,1205.2 1808.1,1207.8 1809.8,1209.3 1811.5,1211.0" fill="none" stroke="#ff0000" stroke-width="5" stroke-linejoin="round" stroke-linecap="round" shape-rendering="crispEdges"/>
<path d="M266 1253H271V1275H266ZM267 1275H270V1277H267ZM306 1253H311V1263H306ZM307 1263H310V1265H307ZM346 1253H351V1263H346ZM347 1263H350V1265H347ZM387 1253H392V1263H387ZM388 1263H391V1265H388ZM427 1253H432V1275H427ZM428 1275H431V1277H428ZM467 1253H472V1263H467ZM468 1263H471V1265H468ZM507 1253H512V1263H507ZM508 1263H511V1265H508ZM547 1253H552V1263H547ZM548 1263H551V1265H548ZM588 1253H593V1275H588ZM589 1275H592V1277H589ZM628 1253H633V1263H628ZM629 1263H632V1265H629ZM668 1253H673V1263H668ZM669 1263H672V1265H669ZM708 1253H713V1263H708ZM709 1263H712V1265H709ZM749 1253H754V1275H749ZM750 1275H753V1277H750ZM789 1253H794V1263H789ZM790 1263H793V1265H790ZM829 1253H834V1263H829ZM830 1263H833V1265H830ZM869 1253H874V1263H869ZM870 1263H873V1265H870ZM909 1253H914V1275H909ZM910 1275H913V1277H910ZM950 1253H955V1263H950ZM951 1263H954V1265H951ZM990 1253H995V1263H990ZM991 1263H994V1265H991ZM1030 1253H1035V1263H1030ZM1031 1263H1034V1265H1031ZM1070 1253H1075V1275H1070ZM1071 1275H1074V1277H1071ZM1110 1253H1115V1263H1110ZM1111 1263H1114V1265H1111ZM1151 1253H1156V1263H1151ZM1152 1263H1155V1265H1152ZM1191 1253H1196V1263H1191ZM1192 1263H1195V1265H1192ZM1231 1253H1236V1275H1231ZM1232 1275H1235V1277H1232ZM1271 1253H1276V1263H1271ZM1272 1263H1275V1265H1272ZM1312 1253H1317V1263H1312ZM1313 1263H1316V1265H1313ZM1352 1253H1357V1263H1352ZM1353 1263H1356V1265H1353ZM1392 1253H1397V1275H1392ZM1393 1275H1396V1277H1393ZM1432 1253H1437V1263H1432ZM1433 1263H1436V1265H1433ZM1472 1253H1477V1263H1472ZM1473 1263H1476V1265H1473ZM1513 1253H1518V1263H1513ZM1514 1263H1517V1265H1514ZM1553 1253H1558V1275H1553ZM1554 1275H1557V1277H1554ZM1593 1253H1598V1263H1593ZM1594 1263H1597V1265H1594ZM1633 1253H1638V1263H1633ZM1634 1263H1637V1265H1634ZM1673 1253H1678V1263H1673ZM1674 1263H1677V1265H1674ZM1714 1253H1719V1275H1714ZM1715 1275H1718V1277H1715ZM1754 1253H1759V1263H1754ZM1755 1263H1758V1265H1755ZM1794 1253H1799V1263H1794ZM1795 1263H1798V1265H1795ZM243 1248H266V1253H243ZM241 1249H243V1252H241ZM256 1003H266V1008H256ZM254 1004H256V1007H254ZM243 758H266V763H243ZM241 759H243V762H241ZM256 514H266V519H256ZM254 515H256V518H254ZM243 269H266V274H243ZM241 270H243V273H241ZM256 25H266V30H256ZM254 26H256V29H254ZM266 25H1816V30H266ZM266 1248H1816V1253H266ZM266 25H271V1253H266ZM1811 25H1816V1253H1811Z" fill="#000"/>
<path d="M323 129H469V134H323ZM321 130H323V133H321ZM469 130H471V133H469Z" fill="#000"/><path d="M323 209H469V214H323ZM321 210H323V213H321ZM469 210H471V213H469Z" fill="#ff0000"/>
<g fill="#000">
<text class="ss" font-size="65" transform="matrix(1.0110 0 0 1.0183 486.57 153.66)">Survey SAW@CNW</text>
<text class="ss" font-size="65" transform="matrix(1.0086 0 0 1.0183 486.57 233.66)">Survey SAW@CNW_Treat</text>
<text class="ss" font-size="53" transform="matrix(1.0045 0 0 1.0432 1681.49 114.70)">C1s</text>
<text class="ss" font-size="53" transform="matrix(1.0087 0 0 1.0541 1295.37 390.10)">O1s</text>
<text class="ss" font-size="53" transform="matrix(1.0145 0 0 1.0595 565.06 870.00)">O KLL</text>
<text class="ss" font-size="53" transform="matrix(1.0216 0 0 1.0189 1518.11 989.80)">N1s</text>
<text class="tb" font-size="58" transform="matrix(1.0265 0 0 1.0150 104.85 289.70)">200k</text>
<text class="tb" font-size="58" transform="matrix(1.0175 0 0 1.0025 104.51 778.80)">100k</text>
<text class="tb" font-size="58" transform="matrix(1.0360 0 0 1.0737 196.83 1268.80)">0</text>
<text class="tb" font-size="58" transform="matrix(1.0270 0 0 1.0553 207.39 1338.00)">1200</text>
<text class="tb" font-size="58" transform="matrix(1.0270 0 0 1.0553 369.78 1338.00)">1100</text>
<text class="tb" font-size="58" transform="matrix(1.0270 0 0 1.0553 529.09 1338.00)">1000</text>
<text class="tb" font-size="58" transform="matrix(1.0270 0 0 1.0553 706.38 1338.00)">900</text>
<text class="tb" font-size="58" transform="matrix(1.0270 0 0 1.0553 867.23 1338.00)">800</text>
<text class="tb" font-size="58" transform="matrix(1.0270 0 0 1.0553 1027.56 1338.00)">700</text>
<text class="tb" font-size="58" transform="matrix(1.0270 0 0 1.0553 1188.93 1338.00)">600</text>
<text class="tb" font-size="58" transform="matrix(1.0270 0 0 1.0553 1349.78 1338.00)">500</text>
<text class="tb" font-size="58" transform="matrix(1.0270 0 0 1.0553 1511.14 1338.00)">400</text>
<text class="tb" font-size="58" transform="matrix(1.0270 0 0 1.0553 1671.48 1338.00)">300</text>
<text class="tb" font-size="70" transform="matrix(1.0098 0 0 0.9797 712.19 1418.80)">Binding energy (eV)</text>
<text class="tb" font-size="70" transform="matrix(0 -1.0126 0.9844 0 71.23 937.81)">XPS intensity (cps)</text>
</g>
</svg>
</body></html>
